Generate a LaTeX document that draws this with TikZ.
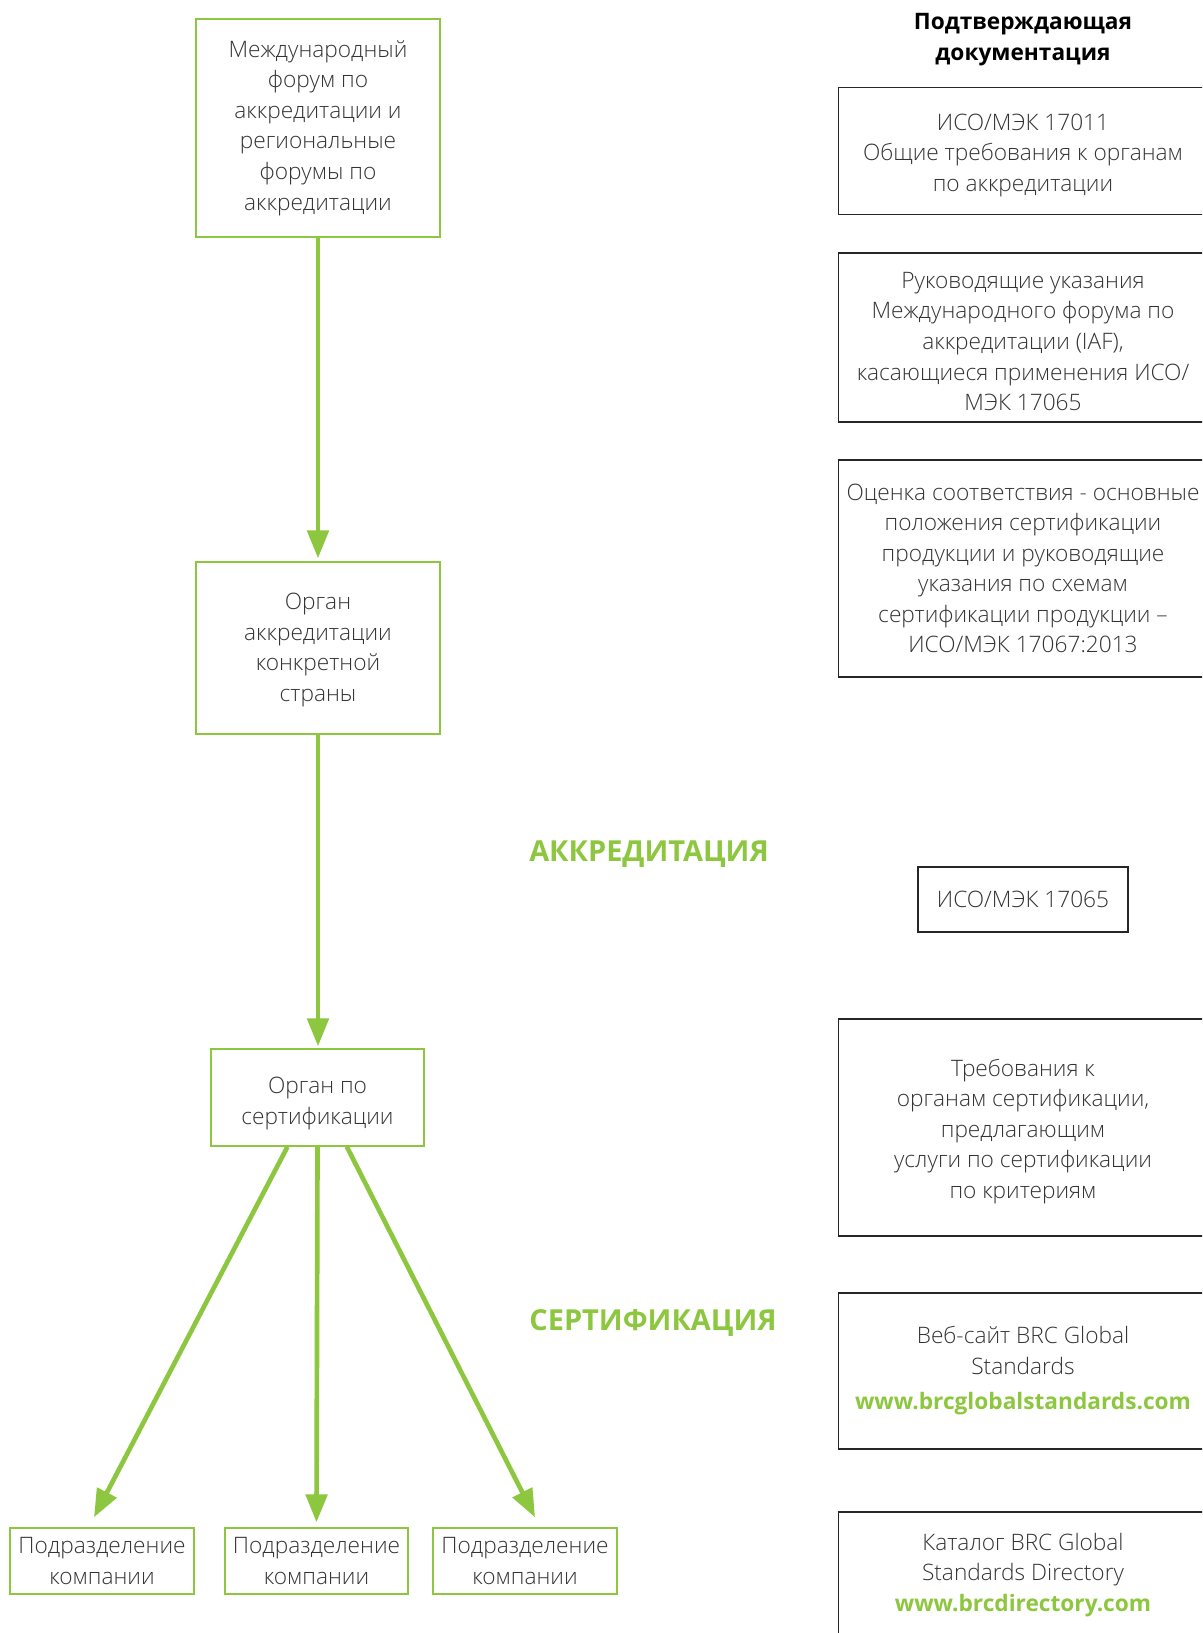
\documentclass[tikz,border=0pt]{standalone}
\usepackage{fontspec}
\setmainfont{Open Sans}[UprightFont=* Light, BoldFont=* Bold]
\usetikzlibrary{arrows.meta}
\usetikzlibrary{positioning}
\definecolor{brcgreen}{HTML}{8DC63F}
\definecolor{txtgray}{HTML}{333333}
\newcommand{\dropby}[1]{\rule{0pt}{#1}}

\begin{document}
\begin{tikzpicture}[x=0.75pt, y=-0.75pt, font=\fontsize{17}{22.9}\selectfont, text=txtgray]
\tikzstyle{every node}=[align=center]
\tikzstyle{greenbox}=[draw=brcgreen, line width=1.1pt, inner sep=0pt]
\tikzstyle{docbox}=[draw=black!85, line width=1.1pt, inner sep=0pt, minimum width=276.75pt]
\tikzstyle{flow}=[brcgreen, line width=3.5pt, -{Triangle[length=21pt,width=16pt]}]
\tikzstyle{stage}=[text=brcgreen, font=\fontsize{21.7}{26}\bfseries\selectfont]
\useasboundingbox (0,0) rectangle (1202,1633);
\clip (0,0) rectangle (1202,1633);
% left column
\node[greenbox, minimum width=183pt, minimum height=163.5pt] (forum) at (318,128)
  {Международный\\форум по\\аккредитации и\\региональные\\форумы по\\аккредитации};
\node[greenbox, minimum width=183pt, minimum height=129pt] (natbody) at (318,648)
  {\dropby{15pt}Орган\\аккредитации\\конкретной\\страны};
\node[greenbox, minimum width=160pt, minimum height=72.75pt] (certbody) at (317.5,1097.5)
  {\dropby{21.4pt}Орган по\\сертификации};
\node[greenbox, minimum width=138pt, minimum height=49.5pt] (sitea) at (102,1561)
  {Подразделение\\компании};
\node[greenbox, minimum width=137.25pt, minimum height=49.5pt] (siteb) at (316.5,1561)
  {Подразделение\\компании};
\node[greenbox, minimum width=138pt, minimum height=49.5pt] (sitec) at (525,1561)
  {Подразделение\\компании};
\draw[flow, shorten >=2.25pt] (forum) -- (natbody);
\draw[flow, shorten >=1.5pt] (natbody.south) -- (natbody.south |- certbody.north);
\draw[flow] ([xshift=-22.5pt]certbody.south) -- ([xshift=-6pt,yshift=7.5pt]sitea.north);
\draw[flow] (certbody.south) -- ([yshift=3.75pt]siteb.north);
\draw[flow] ([xshift=22pt]certbody.south) -- ([xshift=7.5pt,yshift=7.5pt]sitec.north);
% stages
\node[stage] (accr) at (649,854) {АККРЕДИТАЦИЯ};
\node[stage] (cert) at (653,1323) {СЕРТИФИКАЦИЯ};
% documents
\node[text=black, font=\fontsize{17}{23.25}\bfseries\selectfont] (header) at (1023,39.5)
  {Подтверждающая\\документация};
\node[docbox, minimum height=95.25pt] (iso17011) at (1023,151)
  {\dropby{18.4pt}ИСО/МЭК 17011\\Общие требования к органам\\по аккредитации};
\node[docbox, minimum height=126.75pt] (iafguide) at (1023,337.5)
  {\dropby{18.2pt}Руководящие указания\\Международного форума по\\аккредитации (IAF),\\касающиеся применения ИСО/\\МЭК 17065};
\node[docbox, minimum height=162.75pt] (iso17067) at (1023,568.5)
  {Оценка соответствия - основные\\положения сертификации\\продукции и руководящие\\указания по схемам\\сертификации продукции –\\ИСО/МЭК 17067:2013};
\node[docbox, minimum width=157.5pt, minimum height=48.75pt] (iso17065) at (1023,899.5)
  {ИСО/МЭК 17065};
\node[docbox, minimum height=162.75pt] (reqcb) at (1023,1127.5)
  {\dropby{18.9pt}Требования к\\органам сертификации,\\предлагающим\\услуги по сертификации\\по критериям};
\node[docbox, minimum height=117pt] (website) at (1023,1371)
  {Веб-сайт BRC Global\\Standards\\[3.75pt]{\bfseries\color{brcgreen}www.brcglobalstandards.com}};
\node[docbox, minimum height=94.5pt] (directory) at (1023,1575)
  {Каталог BRC Global\\Standards Directory\\{\bfseries\color{brcgreen}www.brcdirectory.com}};
\end{tikzpicture}
\end{document}
